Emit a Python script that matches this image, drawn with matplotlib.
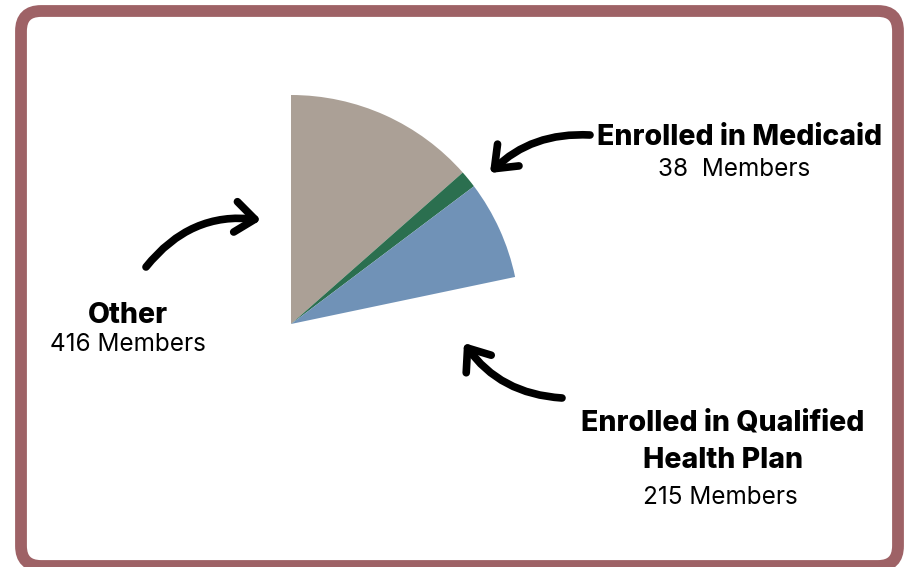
import matplotlib
matplotlib.use("Agg")
import matplotlib.pyplot as plt
from matplotlib.patches import FancyArrowPatch, FancyBboxPatch

# Data
labels = ['Other', 'Enrolled in Medicaid', 'Enrolled in Qualified Health Plan']
members = [416, 38, 215]
colors = ['#aba096', '#2b6f4f', '#7092b7']
# the chart only shows a slice of a bigger circle; remainder is left blank
not_shown = 2413

W, H = 910, 567
fig = plt.figure(figsize=(W / 100, H / 100), dpi=100)
ax = fig.add_axes([0, 0, 1, 1])


def img_y(y):
    # picture coords (y down) -> axes coords (y up)
    return H - y


# pie, centre at (291, 324) px, radius 229 px
ax.pie(members + [not_shown], colors=colors + ['none'], startangle=90,
       counterclock=False, center=(291, img_y(324)), radius=229,
       frame=True, wedgeprops=dict(linewidth=0))

ax.set_xlim(0, W)
ax.set_ylim(0, H)
ax.set_aspect('auto')
ax.axis('off')

# rounded frame
frame = FancyBboxPatch((21, img_y(566)), 877, 555,
                       boxstyle='round,pad=0,rounding_size=20',
                       fill=False, edgecolor='#9e6266', linewidth=8.5,
                       clip_on=False)
ax.add_patch(frame)

# labels
head = dict(family=['Inter', 'DejaVu Sans'], fontweight='heavy', fontsize=20.5,
            color='black', ha='center', va='baseline')
sub = dict(family=['Inter', 'DejaVu Sans'], fontweight='normal', fontsize=17.5,
           color='black', ha='center', va='baseline')

ax.text(740, img_y(145), 'Enrolled in Medicaid', **head)
ax.text(734, img_y(176), f'{members[1]}  Members', **sub)

ax.text(128, img_y(323), 'Other', **head)
ax.text(128, img_y(351), f'{members[0]} Members', **sub)

ax.text(723, img_y(430), 'Enrolled in Qualified', **head)
ax.text(723, img_y(468), 'Health Plan', **head)
ax.text(720, img_y(504), f'{members[2]} Members', **sub)

# curved arrows
arrows = [
    ((590, 135), (490, 173), 0.22),   # Medicaid
    ((146, 267), (261, 220), -0.28),  # Other
    ((562, 398), (464, 343), -0.24),  # QHP
]
for (x1, y1), (x2, y2), rad in arrows:
    a = FancyArrowPatch((x1, img_y(y1)), (x2, img_y(y2)),
                        connectionstyle=f'arc3,rad={rad}',
                        arrowstyle='->,head_length=14,head_width=11',
                        mutation_scale=1, linewidth=5.5, color='black',
                        capstyle='round', joinstyle='round',
                        shrinkA=0, shrinkB=0)
    ax.add_patch(a)

fig.savefig('out.png', dpi=100)
